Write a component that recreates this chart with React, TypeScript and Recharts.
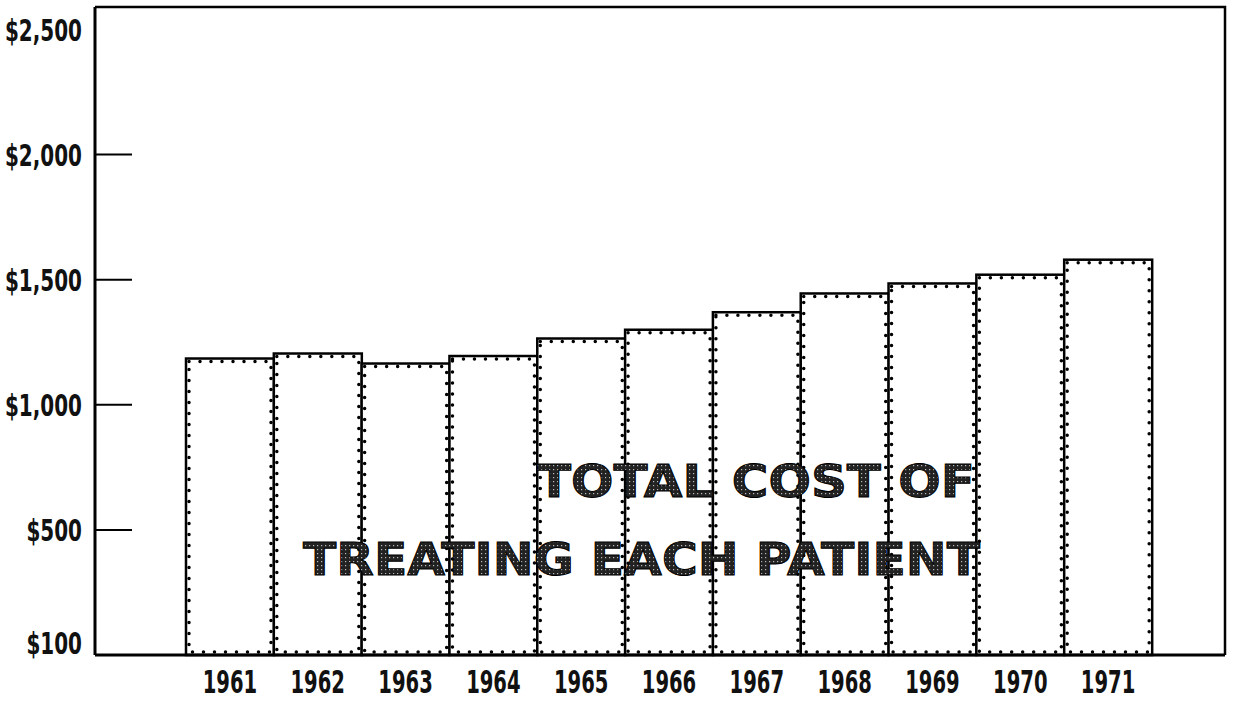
import { BarChart, Bar, XAxis, YAxis } from 'recharts';

// Cost per patient
const years = ['1961', '1962', '1963', '1964', '1965', '1966', '1967', '1968', '1969', '1970', '1971'];
const costs = [1185, 1205, 1165, 1195, 1265, 1300, 1370, 1445, 1485, 1520, 1580];

// The printed axis is labelled $100 at the floor, then steps of $500
const yTickValues = [0, 500, 1000, 1500, 2000, 2500];
const yTickLabels = ['$100', '$500', '$1,000', '$1,500', '$2,000', '$2,500'];

const titleLines = ['TOTAL COST OF', 'TREATING EACH PATIENT'];

const chartData = years.map((year, i) => ({ year, cost: costs[i] }));

const W = 1245;
const H = 707;
const plot = { left: 95, top: 7, right: 1225, bottom: 655 };

const labelFont = '"DejaVu Sans Condensed", "DejaVu Sans", sans-serif';

const YTick = (props: any) => {
  const { y, payload } = props;
  const idx = yTickValues.indexOf(payload.value);
  const isFloor = idx === 0;
  const isTop = idx === yTickValues.length - 1;
  const ty = y + (isFloor ? -1 : 11);
  return (
    <g>
      {!isFloor && !isTop && (
        <line x1={plot.left} y1={y} x2={plot.left + 37} y2={y} stroke="#000" strokeWidth={2} />
      )}
      <text
        transform={`translate(82, ${ty}) scale(0.74, 1)`}
        textAnchor="end"
        fontFamily={labelFont}
        fontWeight="bold"
        fontSize={30}
        fill="#111"
      >
        {yTickLabels[idx]}
      </text>
    </g>
  );
};

const XTick = (props: any) => {
  const { x, y, payload } = props;
  return (
    <text
      transform={`translate(${x}, ${y + 38}) scale(0.68, 1)`}
      textAnchor="middle"
      fontFamily={labelFont}
      fontWeight="bold"
      fontSize={32}
      fill="#111"
    >
      {payload.value}
    </text>
  );
};

const DottedBar = (props: any) => {
  const { x, y, width, height } = props;
  if (!height || height <= 0) return null;
  return (
    <g>
      <rect x={x} y={y} width={width} height={height} fill="#fff" stroke="#000" strokeWidth={2.5} />
      <rect
        x={x + 3}
        y={y + 3}
        width={width - 6}
        height={height - 6}
        fill="none"
        stroke="#000"
        strokeWidth={3.5}
        strokeDasharray="0 11"
        strokeLinecap="round"
      />
    </g>
  );
};

const App = () => {
  return (
    <div style={{ position: 'absolute', left: 0, top: 0, width: W, height: H, background: '#fff' }}>
      <BarChart
        width={W}
        height={H}
        data={chartData}
        margin={{ top: plot.top, right: W - plot.right, bottom: 12, left: 0 }}
        barCategoryGap={0}
      >
        <XAxis
          dataKey="year"
          height={40}
          padding={{ left: 91, right: 73 }}
          axisLine={{ stroke: '#000', strokeWidth: 3 }}
          tickLine={false}
          tickSize={0}
          tickMargin={0}
          interval={0}
          tick={(p: any) => <XTick {...p} />}
        />
        <YAxis
          type="number"
          domain={[0, 2590]}
          ticks={yTickValues}
          interval={0}
          width={plot.left}
          axisLine={{ stroke: '#000', strokeWidth: 3 }}
          tickLine={false}
          tickSize={0}
          tickMargin={13}
          tick={(p: any) => <YTick {...p} />}
        />
        <Bar dataKey="cost" isAnimationActive={false} shape={(p: any) => <DottedBar {...p} />} />
      </BarChart>

      {/* top/right frame and the stencil-like title printed across the bars */}
      <svg width={W} height={H} style={{ position: 'absolute', left: 0, top: 0, pointerEvents: 'none' }}>
        <defs>
          <pattern id="speckle" width="4" height="4" patternUnits="userSpaceOnUse">
            <rect width="4" height="4" fill="#222" />
            <rect x="1" y="1" width="1.2" height="1.2" fill="#bbb" />
          </pattern>
        </defs>
        <polyline
          points={`${plot.left},${plot.top} ${plot.right},${plot.top} ${plot.right},${plot.bottom}`}
          fill="none"
          stroke="#000"
          strokeWidth={2.5}
        />
        <text
          x={537}
          y={497}
          textLength={438}
          lengthAdjust="spacingAndGlyphs"
          fontFamily='"DejaVu Sans", sans-serif'
          fontWeight="bold"
          fontSize={45}
          fill="url(#speckle)"
          stroke="#000"
          strokeWidth={1}
        >
          {titleLines[0]}
        </text>
        <text
          x={303}
          y={575}
          textLength={677}
          lengthAdjust="spacingAndGlyphs"
          fontFamily='"DejaVu Sans", sans-serif'
          fontWeight="bold"
          fontSize={45}
          fill="url(#speckle)"
          stroke="#000"
          strokeWidth={1}
        >
          {titleLines[1]}
        </text>
      </svg>
    </div>
  );
};

export default App;
